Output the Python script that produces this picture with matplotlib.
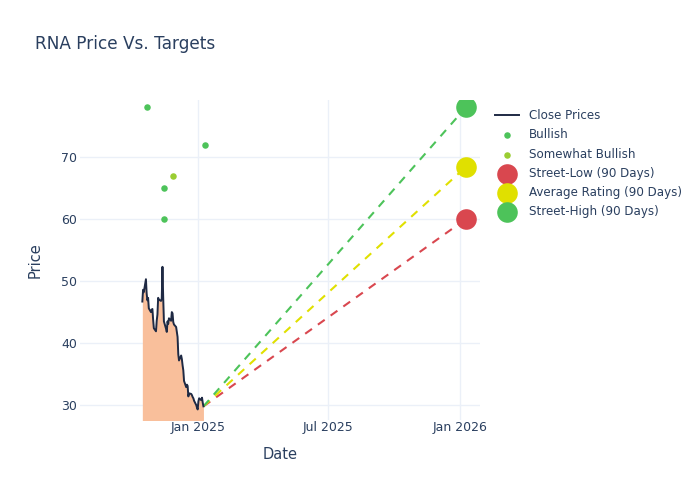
import numpy as np
import pandas as pd
import matplotlib
matplotlib.use("Agg")
import matplotlib.pyplot as plt
import matplotlib.dates as mdates

# Close prices (business days, Oct 16 2024 - Jan 9 2025)
dates = pd.bdate_range("2024-10-16", "2025-01-09")
close = [46.7, 48.6, 48.2, 50.3, 48.0, 46.9, 47.3, 45.6, 45.0, 45.4,
         45.5, 43.8, 42.4, 41.9, 43.6, 44.6, 47.3, 47.0, 46.8, 47.2,
         52.3, 47.4, 43.5, 42.3, 41.8, 43.5, 43.1, 44.0, 43.6, 45.0,
         44.8, 43.4, 43.0, 42.6, 41.8, 41.0, 38.2, 37.2, 38.0, 37.4,
         36.4, 35.6, 33.9, 32.9, 33.3, 33.1, 31.4, 31.9, 31.8, 31.6,
         31.3, 31.1, 30.7, 30.0, 29.6, 29.3, 30.6, 31.1, 30.8, 31.2,
         30.4, 29.8]

# Analyst ratings
bullish_dates = pd.to_datetime(["2024-10-22", "2024-11-15", "2024-11-15", "2025-01-11"])
bullish_prices = [78, 65, 60, 72]
somewhat_dates = pd.to_datetime(["2024-11-27"])
somewhat_prices = [67]

# 90-day targets
target_date = pd.Timestamp("2026-01-09")
target_names = ["Street-Low (90 Days)", "Average Rating (90 Days)", "Street-High (90 Days)"]
target_values = [60, 68.4, 78]
target_colors = ["#d9474f", "#e0e000", "#4dc35a"]

text_col = "#2a3f5f"
grid_col = "#ebf0f8"

fig = plt.figure(figsize=(7, 5), dpi=100)
ax = fig.add_axes([0.114, 0.16, 0.572, 0.64])

ax.fill_between(dates, close, 0, color="#f9bf9b", lw=0, zorder=1)
ax.plot(dates, close, color="#1f2a44", lw=1.4, label="Close Prices", zorder=3)

ax.scatter(bullish_dates, bullish_prices, s=22, color="#4dc35a", label="Bullish", zorder=4, lw=0)
ax.scatter(somewhat_dates, somewhat_prices, s=22, color="#9acd32", label="Somewhat Bullish", zorder=4, lw=0)

for name, val, col in zip(target_names, target_values, target_colors):
    ax.plot([dates[-1], target_date], [close[-1], val], color=col, lw=1.5,
            ls=(0, (4, 3.5)), zorder=2)
    ax.scatter([target_date], [val], s=220, color=col, label=name, zorder=5, lw=0)

ax.set_xlim(pd.Timestamp("2024-07-21"), pd.Timestamp("2026-01-29"))
ax.set_ylim(27.6, 79.2)
ax.set_yticks([30, 40, 50, 60, 70])
ax.set_xticks(pd.to_datetime(["2025-01-01", "2025-07-01", "2026-01-01"]))
ax.xaxis.set_major_formatter(mdates.DateFormatter("%b %Y"))

ax.grid(True, color=grid_col, lw=1)
ax.set_axisbelow(True)
for s in ax.spines.values():
    s.set_visible(False)
ax.tick_params(length=0, colors=text_col, labelsize=9)
ax.tick_params(axis="x", pad=1)
ax.tick_params(axis="y", pad=2)

ax.set_xlabel("Date", color=text_col, fontsize=10.5, labelpad=9)
ax.set_ylabel("Price", color=text_col, fontsize=10.5, labelpad=13)

fig.text(0.05, 0.912, "RNA Price Vs. Targets", color=text_col, fontsize=12.2, va="center")

leg = ax.legend(loc="upper left", bbox_to_anchor=(1.025, 0.986), frameon=False,
                fontsize=8.6, labelcolor=text_col, handlelength=2, handletextpad=0.85,
                labelspacing=0.52, borderaxespad=0)

fig.savefig("out.png", dpi=100)
